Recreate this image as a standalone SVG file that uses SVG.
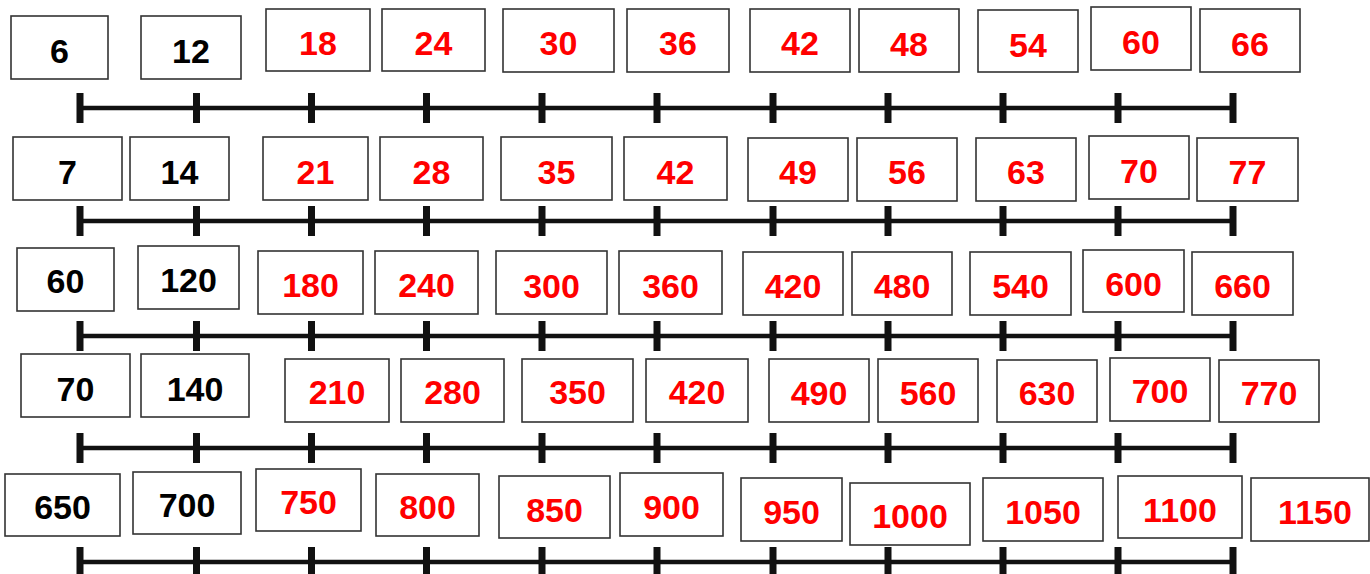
<svg xmlns="http://www.w3.org/2000/svg" width="1370" height="574" viewBox="0 0 1370 574">
<defs>
<style>
.node rect{fill:#fff;stroke:#333;stroke-width:1.6}
.node text{font-family:"Liberation Sans",Arial,sans-serif;font-weight:bold;font-size:34px;text-anchor:middle}
.k text{fill:#000}
.r text{fill:#ff0000}
.axis{stroke:#111;stroke-width:4.5;fill:none}
.tick{stroke:#111;stroke-width:7;fill:none}
</style>
<path id="ticks" d="M80 -15V15M196.5 -15V15M311.5 -15V15M426.5 -15V15M542 -15V15M657 -15V15M773 -15V15M888 -15V15M1003 -15V15M1118 -15V15M1233 -15V15"/>
</defs>
<rect width="1370" height="574" fill="#fff"/>
<g id="connectors">
<g id="line1" transform="translate(0,108)"><path class="axis" d="M80 0H1233"/><use href="#ticks" class="tick"/></g>
<g id="line2" transform="translate(0,221)"><path class="axis" d="M80 0H1233"/><use href="#ticks" class="tick"/></g>
<g id="line3" transform="translate(0,336)"><path class="axis" d="M80 0H1233"/><use href="#ticks" class="tick"/></g>
<g id="line4" transform="translate(0,448)"><path class="axis" d="M80 0H1233"/><use href="#ticks" class="tick"/></g>
<g id="line5" transform="translate(0,562)"><path class="axis" d="M80 0H1233"/><use href="#ticks" class="tick"/></g>
</g>
<!-- Row 1 -->
<g id="n6" class="node k"><rect x="11" y="16" width="97" height="63"/><text x="59.5" y="63">6</text></g>
<g id="n12" class="node k"><rect x="141" y="16" width="100" height="63"/><text x="191" y="63">12</text></g>
<g id="n18" class="node r"><rect x="266" y="9" width="104" height="62"/><text x="318" y="55">18</text></g>
<g id="n24" class="node r"><rect x="382" y="9" width="103" height="62"/><text x="433.5" y="55">24</text></g>
<g id="n30" class="node r"><rect x="503" y="9" width="111" height="63"/><text x="558.5" y="55">30</text></g>
<g id="n36" class="node r"><rect x="627" y="9" width="102" height="63"/><text x="678" y="55">36</text></g>
<g id="n42a" class="node r"><rect x="750" y="9" width="100" height="63"/><text x="800" y="55">42</text></g>
<g id="n48" class="node r"><rect x="859" y="9" width="100" height="63"/><text x="909" y="56">48</text></g>
<g id="n54" class="node r"><rect x="978" y="10" width="100" height="62"/><text x="1028" y="57">54</text></g>
<g id="n60a" class="node r"><rect x="1091" y="7" width="100" height="63"/><text x="1141" y="54">60</text></g>
<g id="n66" class="node r"><rect x="1200" y="9" width="100" height="63"/><text x="1250" y="56">66</text></g>
<!-- Row 2 -->
<g id="n7" class="node k"><rect x="13" y="137" width="109" height="63"/><text x="67.5" y="184">7</text></g>
<g id="n14" class="node k"><rect x="130" y="137" width="99" height="63"/><text x="179.5" y="184">14</text></g>
<g id="n21" class="node r"><rect x="263" y="137" width="105" height="63"/><text x="315.5" y="184">21</text></g>
<g id="n28" class="node r"><rect x="380" y="137" width="103" height="63"/><text x="431.5" y="184">28</text></g>
<g id="n35" class="node r"><rect x="501" y="137" width="111" height="63"/><text x="556.5" y="184">35</text></g>
<g id="n42b" class="node r"><rect x="624" y="137" width="103" height="63"/><text x="675.5" y="184">42</text></g>
<g id="n49" class="node r"><rect x="748" y="138" width="100" height="63"/><text x="798" y="184">49</text></g>
<g id="n56" class="node r"><rect x="857" y="138" width="100" height="63"/><text x="907" y="184">56</text></g>
<g id="n63" class="node r"><rect x="976" y="138" width="100" height="63"/><text x="1026" y="184">63</text></g>
<g id="n70a" class="node r"><rect x="1089" y="136" width="100" height="63"/><text x="1139" y="182.5">70</text></g>
<g id="n77" class="node r"><rect x="1197" y="138" width="101" height="63"/><text x="1247.5" y="184">77</text></g>
<!-- Row 3 -->
<g id="n60b" class="node k"><rect x="17" y="248" width="97" height="63"/><text x="65.5" y="293">60</text></g>
<g id="n120" class="node k"><rect x="138" y="246" width="101" height="63"/><text x="188.5" y="291.5">120</text></g>
<g id="n180" class="node r"><rect x="258" y="251" width="105" height="63"/><text x="310.5" y="297">180</text></g>
<g id="n240" class="node r"><rect x="375" y="251" width="103" height="63"/><text x="426.5" y="297">240</text></g>
<g id="n300" class="node r"><rect x="496" y="251" width="111" height="63"/><text x="551.5" y="298">300</text></g>
<g id="n360" class="node r"><rect x="619" y="251" width="103" height="63"/><text x="670.5" y="298">360</text></g>
<g id="n420a" class="node r"><rect x="743" y="252" width="100" height="63"/><text x="793" y="298">420</text></g>
<g id="n480" class="node r"><rect x="852" y="252" width="100" height="63"/><text x="902" y="298">480</text></g>
<g id="n540" class="node r"><rect x="970" y="252" width="101" height="63"/><text x="1020.5" y="298">540</text></g>
<g id="n600" class="node r"><rect x="1083" y="250" width="101" height="62"/><text x="1133.5" y="295.5">600</text></g>
<g id="n660" class="node r"><rect x="1192" y="252" width="101" height="63"/><text x="1242.5" y="298">660</text></g>
<!-- Row 4 -->
<g id="n70b" class="node k"><rect x="21" y="354" width="109" height="63"/><text x="75.5" y="400.5">70</text></g>
<g id="n140" class="node k"><rect x="141" y="354" width="108" height="63"/><text x="195" y="400.5">140</text></g>
<g id="n210" class="node r"><rect x="285" y="359" width="104" height="63"/><text x="337" y="404">210</text></g>
<g id="n280" class="node r"><rect x="401" y="359" width="103" height="63"/><text x="452.5" y="404">280</text></g>
<g id="n350" class="node r"><rect x="522" y="359" width="111" height="63"/><text x="577.5" y="404">350</text></g>
<g id="n420b" class="node r"><rect x="646" y="359" width="102" height="63"/><text x="697" y="404">420</text></g>
<g id="n490" class="node r"><rect x="769" y="359" width="100" height="63"/><text x="819" y="405">490</text></g>
<g id="n560" class="node r"><rect x="878" y="359" width="100" height="63"/><text x="928" y="405">560</text></g>
<g id="n630" class="node r"><rect x="997" y="360" width="100" height="62"/><text x="1047" y="405">630</text></g>
<g id="n700a" class="node r"><rect x="1110" y="358" width="100" height="63"/><text x="1160" y="402.5">700</text></g>
<g id="n770" class="node r"><rect x="1219" y="360" width="100" height="62"/><text x="1269" y="405">770</text></g>
<!-- Row 5 -->
<g id="n650" class="node k"><rect x="5" y="474" width="115" height="62"/><text x="62.5" y="519">650</text></g>
<g id="n700b" class="node k"><rect x="133" y="472" width="108" height="62"/><text x="187" y="517">700</text></g>
<g id="n750" class="node r"><rect x="256" y="469" width="105" height="62"/><text x="308.5" y="514">750</text></g>
<g id="n800" class="node r"><rect x="376" y="474" width="103" height="62"/><text x="427.5" y="519">800</text></g>
<g id="n850" class="node r"><rect x="499" y="476" width="111" height="62"/><text x="554.5" y="521.5">850</text></g>
<g id="n900" class="node r"><rect x="620" y="473" width="103" height="63"/><text x="671.5" y="519">900</text></g>
<g id="n950" class="node r"><rect x="741" y="478" width="101" height="63"/><text x="791.5" y="524">950</text></g>
<g id="n1000" class="node r"><rect x="850" y="483" width="120" height="62"/><text x="910" y="528">1000</text></g>
<g id="n1050" class="node r"><rect x="983" y="478" width="120" height="63"/><text x="1043" y="524">1050</text></g>
<g id="n1100" class="node r"><rect x="1118" y="476" width="124" height="62"/><text x="1180" y="521.5">1100</text></g>
<g id="n1150" class="node r"><rect x="1251" y="478" width="118" height="63"/><text x="1315" y="524">1150</text></g>
</svg>
